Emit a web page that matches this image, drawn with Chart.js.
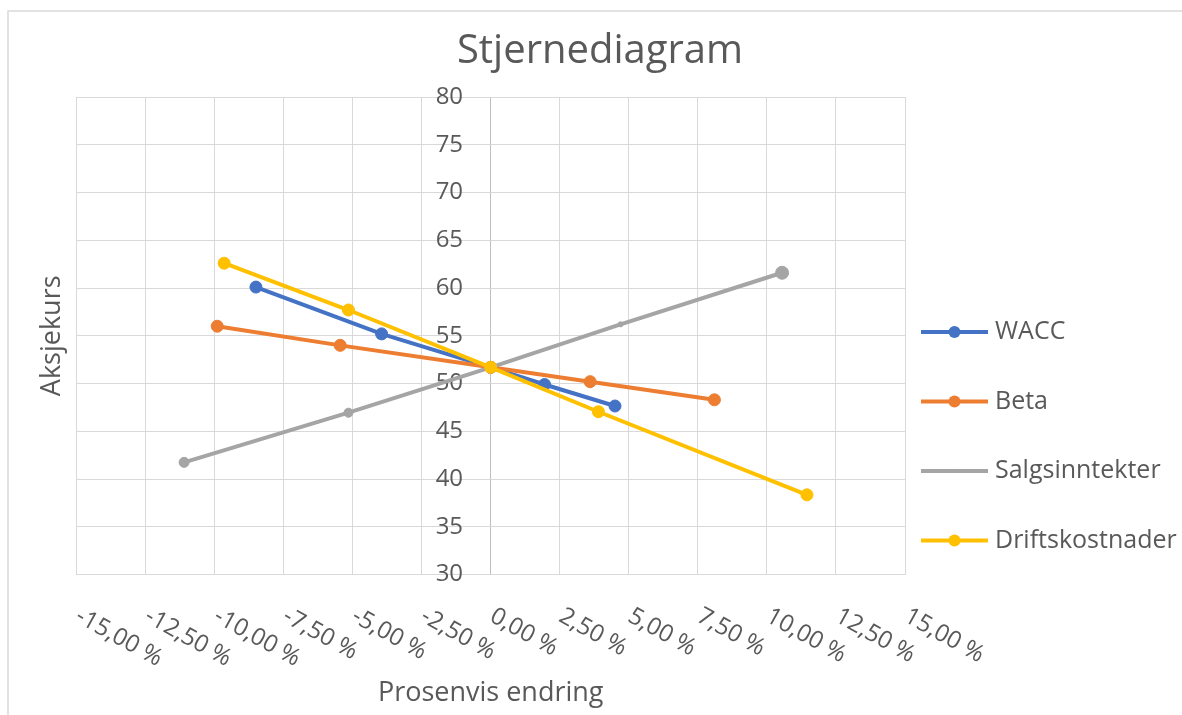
<!DOCTYPE html>
<html>
<head>
<meta charset="utf-8">
<script src="https://cdn.jsdelivr.net/npm/chart.js@4.4.1/dist/chart.umd.min.js"></script>
<style>
  html, body { margin: 0; padding: 0; background: #fff; }
</style>
</head>
<body>
<canvas id="stjerne" width="1182" height="715"></canvas>
<script>
// Verdier lest av figuren (prosentvis endring -> aksjekurs)
const seriesNames = ['WACC', 'Beta', 'Salgsinntekter', 'Driftskostnader'];
const seriesColors = ['#4472C4', '#ED7D31', '#A5A5A5', '#FFC000'];

const waccX = [-8.5, -3.95, 0, 1.95, 4.5];
const waccY = [60.1, 55.2, 51.7, 49.9, 47.65];

const betaX = [-9.9, -5.45, 0, 3.6, 8.1];
const betaY = [56.0, 54.0, 51.7, 50.2, 48.3];

const salgX = [-11.1, -5.15, 0, 4.7, 10.55];
const salgY = [41.75, 46.95, 51.7, 56.2, 61.6];

const driftX = [-9.65, -5.15, 0, 3.9, 11.45];
const driftY = [62.6, 57.7, 51.7, 47.05, 38.35];

// akser
const xMin = -15, xMax = 15, xStep = 2.5;
const yMin = 30, yMax = 80, yStep = 5;

const chartTitle = 'Stjernediagram';
const textColor = '#595959';
const gridColor = '#d9d9d9';
const fontFam = "'Open Sans', Lato, sans-serif";

function toPoints(xs, ys) {
  return xs.map((x, i) => ({x: x, y: ys[i]}));
}

function pctLabel(v) {
  return v.toFixed(2).replace('.', ',') + ' %';
}

const allX = [waccX, betaX, salgX, driftX];
const allY = [waccY, betaY, salgY, driftY];
// gra serie har ulike markorer i originalen
const radii = [6, 6, [5, 4.5, 0, 2.5, 6.5], 6];

const datasets = seriesNames.map((name, i) => ({
  label: name,
  data: toPoints(allX[i], allY[i]),
  borderColor: seriesColors[i],
  backgroundColor: seriesColors[i],
  pointBackgroundColor: seriesColors[i],
  pointBorderColor: seriesColors[i],
  borderWidth: 4,
  pointRadius: radii[i],
  pointBorderWidth: 1,
  pointHoverRadius: radii[i],
  showLine: true,
  order: seriesNames.length - i,
}));

// ramme rundt diagramomradet + tittel
const frame = {
  id: 'frame',
  beforeDraw(chart) {
    const ctx = chart.ctx;
    ctx.save();
    ctx.fillStyle = '#fff';
    ctx.fillRect(0, 0, chart.width, chart.height);
    ctx.strokeStyle = gridColor;
    ctx.lineWidth = 1.5;
    ctx.strokeRect(8, 11, chart.width + 20, chart.height + 20);
    ctx.font = '40px ' + fontFam;
    ctx.fillStyle = textColor;
    ctx.textAlign = 'center';
    ctx.textBaseline = 'alphabetic';
    ctx.fillText(chartTitle, 600, 63);
    ctx.restore();
  }
};

// skrå prosentetiketter under x-aksen
const xTickLabels = {
  id: 'xTickLabels',
  afterDraw(chart) {
    const sc = chart.scales.x;
    const ctx = chart.ctx;
    ctx.save();
    ctx.font = '24px ' + fontFam;
    ctx.fillStyle = textColor;
    ctx.textAlign = 'left';
    ctx.textBaseline = 'middle';
    sc.ticks.forEach(t => {
      const px = sc.getPixelForValue(t.value);
      ctx.save();
      ctx.translate(px + 1, sc.top + 40);
      ctx.rotate(29 * Math.PI / 180);
      ctx.fillText(pctLabel(t.value), 0, 0);
      ctx.restore();
    });
    ctx.restore();
  }
};

// forklaring til hoyre, linje med markor
const sideLegend = {
  id: 'sideLegend',
  afterDraw(chart) {
    const ctx = chart.ctx;
    ctx.save();
    ctx.font = '25px ' + fontFam;
    ctx.textAlign = 'left';
    ctx.textBaseline = 'middle';
    chart.data.datasets.forEach((ds, i) => {
      const y = 332 + i * 69.5;
      ctx.strokeStyle = ds.borderColor;
      ctx.lineWidth = 4;
      ctx.beginPath();
      ctx.moveTo(921, y);
      ctx.lineTo(988, y);
      ctx.stroke();
      ctx.fillStyle = ds.borderColor;
      ctx.beginPath();
      ctx.arc(954.5, y, i === 2 ? 2 : 6, 0, Math.PI * 2);
      ctx.fill();
      ctx.fillStyle = textColor;
      ctx.fillText(ds.label, 995, y);
    });
    ctx.restore();
  }
};

new Chart(document.getElementById('stjerne'), {
  type: 'scatter',
  data: {datasets: datasets},
  plugins: [frame, xTickLabels, sideLegend],
  options: {
    responsive: false,
    animation: false,
    events: [],
    layout: {padding: {left: 36, right: 277, top: 97, bottom: 0}},
    plugins: {
      legend: {display: false},
      tooltip: {enabled: false},
      title: {display: false},
    },
    scales: {
      x: {
        type: 'linear',
        position: 'bottom',
        min: xMin,
        max: xMax,
        ticks: {display: false, stepSize: xStep},
        grid: {
          color: ctx => ctx.tick && ctx.tick.value === 0 ? '#bfbfbf' : gridColor,
          drawTicks: false,
        },
        border: {display: false},
        title: {
          display: true,
          text: 'Prosenvis endring',
          color: textColor,
          font: {family: fontFam, size: 27},
          padding: {top: 103, bottom: 5},
        },
      },
      y: {
        position: 'left',
        min: yMin,
        max: yMax,
        ticks: {display: false, stepSize: yStep},
        grid: {color: gridColor, drawTicks: false},
        border: {display: false},
        title: {
          display: true,
          text: 'Aksjekurs',
          color: textColor,
          font: {family: fontFam, size: 27},
          padding: {top: 0, bottom: 8},
        },
      },
      y2: {
        // etikettene star litt til venstre for 0-linjen
        position: {x: -1},
        min: yMin,
        max: yMax,
        ticks: {
          stepSize: yStep,
          color: textColor,
          font: {family: fontFam, size: 24},
        },
        grid: {display: false, drawTicks: false},
        border: {display: false},
      },
    },
  },
});
</script>
</body>
</html>
